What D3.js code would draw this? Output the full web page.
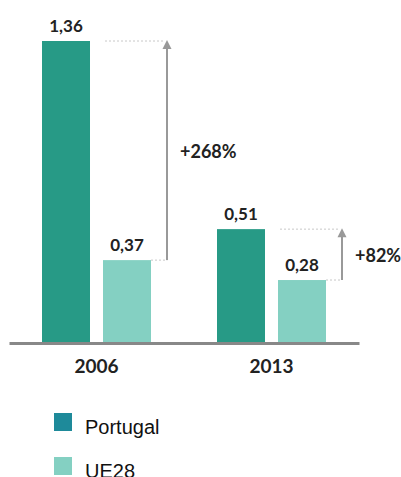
<!DOCTYPE html>
<html>
<head>
<meta charset="utf-8">
<script src="https://cdn.jsdelivr.net/npm/d3@7"></script>
<style>
  body { margin: 0; background: #fff; }
</style>
</head>
<body>
<script>

var years = ["2006", "2013"];
var series = ["Portugal", "UE28"];
var portugal = [1.36, 0.51];
var ue28 = [0.37, 0.28];
var valueLabels = [["1,36", "0,37"], ["0,51", "0,28"]];
var growthLabels = ["+268%", "+82%"];
var colors = ["#279a86", "#84d0c2"];
var legendColors = ["#1e8a9a", "#84d0c2"];

var svg = d3.select("body").append("svg")
    .attr("width", 401)
    .attr("height", 477);

var x0 = d3.scaleBand().domain(years).range([9, 359]).padding(0);
var x1 = d3.scaleBand().domain(series).range([0, x0.bandwidth()])
    .paddingInner(0.213).paddingOuter(0.541);
var y = d3.scaleLinear().domain([0, 1.36]).range([342, 41]);

var rows = years.map(function(yr, i) {
  return { year: yr, vals: [portugal[i], ue28[i]], i: i };
});

var groups = svg.selectAll("g.grp")
    .data(rows)
    .enter().append("g")
    .attr("class", "grp")
    .attr("transform", function(d) { return "translate(" + x0(d.year) + ",0)"; });

function cells(d) {
  return d.vals.map(function(v, j) { return { v: v, s: series[j], j: j, i: d.i }; });
}

groups.selectAll("rect")
    .data(cells)
    .enter().append("rect")
    .attr("x", function(d) { return x1(d.s); })
    .attr("y", function(d) { return y(d.v); })
    .attr("width", x1.bandwidth())
    .attr("height", function(d) { return y(0) - y(d.v); })
    .attr("fill", function(d) { return colors[d.j]; });

groups.selectAll("text.val")
    .data(cells)
    .enter().append("text")
    .attr("class", "val")
    .attr("x", function(d) { return x1(d.s) + x1.bandwidth() / 2; })
    .attr("y", function(d) { return y(d.v) - 9; })
    .attr("text-anchor", "middle")
    .attr("font-family", "Lato, sans-serif")
    .attr("font-weight", "bold")
    .attr("font-size", "17px")
    .attr("fill", "#222")
    .text(function(d) { return valueLabels[d.i][d.j]; });

// growth arrows + dotted guides
groups.each(function(d) {
  var g = d3.select(this);
  var ax = x1("UE28") + x1.bandwidth() + 16;
  var top = y(d.vals[0]), low = y(d.vals[1]);
  g.append("line")
      .attr("x1", x1("Portugal") + x1.bandwidth() + 15).attr("x2", ax - 4)
      .attr("y1", top).attr("y2", top)
      .attr("stroke", "#c8c8c8").attr("stroke-width", 1)
      .attr("stroke-dasharray", "2,2");
  g.append("line")
      .attr("x1", x1("UE28") + x1.bandwidth()).attr("x2", ax)
      .attr("y1", low).attr("y2", low)
      .attr("stroke", "#c8c8c8").attr("stroke-width", 1)
      .attr("stroke-dasharray", "2,2");
  g.append("line")
      .attr("x1", ax).attr("x2", ax)
      .attr("y1", low).attr("y2", top + 6)
      .attr("stroke", "#999").attr("stroke-width", 2);
  g.append("path")
      .attr("d", "M" + (ax - 4.5) + "," + (top + 8) + "L" + ax + "," + (top - 1) + "L" + (ax + 4.5) + "," + (top + 8) + "Z")
      .attr("fill", "#999");
  g.append("text")
      .attr("x", ax + 13)
      .attr("y", (top + low) / 2 + 7)
      .attr("font-family", "Lato, sans-serif")
      .attr("font-weight", "bold")
      .attr("font-size", "18px")
      .attr("fill", "#222")
      .text(growthLabels[d.i]);
});

// x axis
var xAxis = svg.append("g")
    .attr("transform", "translate(0,343)")
    .call(d3.axisBottom(x0).tickSize(0).tickSizeOuter(0).tickPadding(17));
xAxis.select(".domain").attr("stroke", "#888").attr("stroke-width", 3);
xAxis.selectAll("text")
    .attr("font-family", "Lato, sans-serif")
    .attr("font-weight", "bold")
    .attr("font-size", "19px")
    .attr("fill", "#222");

// legend
var legend = svg.selectAll("g.leg")
    .data(series)
    .enter().append("g")
    .attr("class", "leg")
    .attr("transform", function(d, i) { return "translate(54," + (413 + i * 44) + ")"; });
legend.append("rect")
    .attr("width", 18).attr("height", 18)
    .attr("fill", function(d, i) { return legendColors[i]; });
legend.append("text")
    .attr("x", 31).attr("y", 21)
    .attr("font-family", "'Liberation Sans', Arial, sans-serif")
    .attr("font-size", "20px")
    .attr("fill", "#111")
    .text(function(d) { return d; });

</script>
</body>
</html>
